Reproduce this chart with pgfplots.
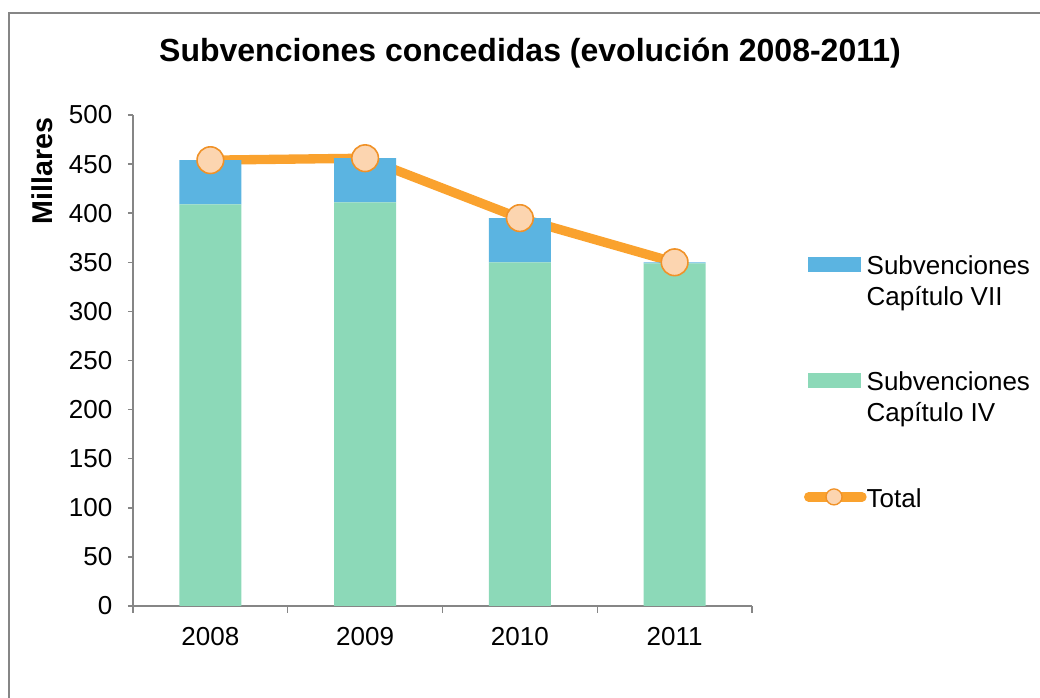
\documentclass[border=0pt]{standalone}
\usepackage{pgfplots}
\pgfplotsset{compat=1.18}
\usepackage{fontspec}
\setmainfont{Liberation Sans}
\definecolor{cgreen}{RGB}{140,217,184}
\definecolor{cblue}{RGB}{91,180,225}
\definecolor{corange}{RGB}{250,162,46}
\definecolor{cpeach}{RGB}{252,213,176}
\definecolor{cmedge}{RGB}{240,146,40}
\definecolor{caxis}{RGB}{134,134,134}
\newcommand{\lbl}{\fontsize{19.5}{23.3}\selectfont}
\begin{document}
\begin{tikzpicture}
\useasboundingbox (0,0) rectangle (780pt,523.5pt);
\draw[caxis, line width=1pt] (6.75pt,-20pt) -- (6.75pt,513.75pt) -- (800pt,513.75pt);
\node[font=\bfseries\fontsize{24}{28}\selectfont] at (397.5pt,483.75pt) {Subvenciones concedidas (evolución 2008-2011)};
\node[font=\bfseries\fontsize{21.5}{25}\selectfont, rotate=90] at (31.5pt,395.25pt) {Millares};
\begin{axis}[
  at={(99.75pt,69pt)}, anchor=south west,
  width=464.25pt, height=368.25pt, scale only axis,
  xmin=-0.5, xmax=3.5, ymin=0, ymax=500,
  ybar stacked, bar width=46.5pt,
  axis lines*=left,
  axis line style={caxis, line width=1.1pt},
  xtick={0,1,2,3}, xticklabels={2008,2009,2010,2011},
  major x tick style={draw=none},
  minor xtick={-0.5,0.5,1.5,2.5,3.5},
  minor tick length=5.25pt,
  major tick length=3.75pt,
  ytick={0,50,...,500},
  tick align=outside,
  tick style={caxis, line width=1.1pt},
  ticklabel style={font=\lbl},
  xticklabel style={yshift=-9pt},
  yticklabel style={xshift=-8.25pt},
  /pgf/number format/assume math mode=true,
  legend style={at={(axis description cs:1.0836,0.7204)}, anchor=north west,
    draw=none, fill=none, inner sep=0pt, row sep=69.5pt, column sep=0pt,
    nodes={inner sep=0pt}, font=\lbl},
  legend cell align=left,
]
\addlegendimage{legend image code/.code={\fill[cblue] (0pt,-5pt) rectangle (39pt,5.5pt);}}
\addlegendentry{\begin{tabular}[t]{@{}l@{}}Subvenciones\\Capítulo VII\end{tabular}}
\addlegendimage{legend image code/.code={\fill[cgreen] (0pt,-5pt) rectangle (39pt,5.5pt);}}
\addlegendentry{\begin{tabular}[t]{@{}l@{}}Subvenciones\\Capítulo IV\end{tabular}}
\addlegendimage{legend image code/.code={\draw[corange, line width=7pt, line cap=round] (0pt,0.25pt) -- (40pt,0.25pt);
  \draw[cmedge, fill=cpeach, line width=1pt] (19pt,0.25pt) circle (6pt);}}
\addlegendentry{\begin{tabular}[t]{@{}l@{}}Total\end{tabular}}

\addplot[forget plot, fill=cgreen, draw=none] coordinates {(0,409) (1,411) (2,350) (3,349)};
\addplot[forget plot, fill=cblue, draw=none] coordinates {(0,45) (1,45) (2,45) (3,1)};
\addplot[forget plot, stack plots=false, sharp plot, corange, line width=7pt, line join=round,
  mark=*, mark size=10pt, mark options={draw=cmedge, fill=cpeach, line width=1.2pt}]
  coordinates {(0,454) (1,456) (2,395) (3,350)};
\end{axis}
\end{tikzpicture}
\end{document}
